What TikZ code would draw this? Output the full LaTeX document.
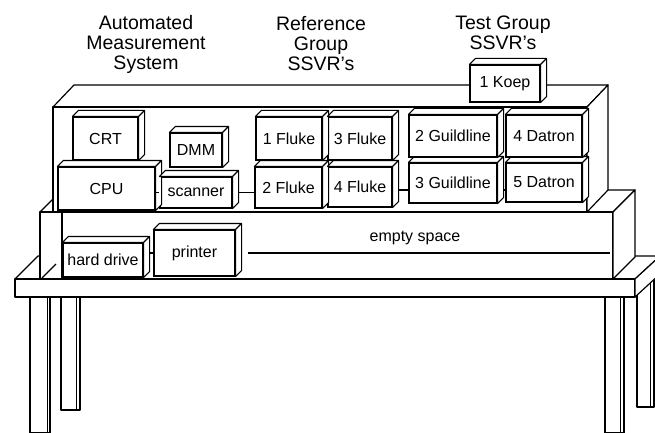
\documentclass[tikz,border=0pt]{standalone}
\usepackage{fontspec}
\setmainfont{Liberation Sans}

\tikzset{
  unit/.style={draw, fill=white, line width=1.1pt, inner sep=0pt, font=\fontsize{16}{18}\selectfont},
  face/.style={draw, fill=white, line width=1.1pt, line join=round},
  frame/.style={draw, fill=white, line width=1.2pt, line join=round},
  heading/.style={align=center, font=\fontsize{19.5}{20}\selectfont},
  floor/.style={line width=2.6pt},
  wire/.style={line width=1.1pt},
}

\begin{document}
\begin{tikzpicture}[x=1pt, y=-1pt]
  \useasboundingbox (0,0) rectangle (655,433);

  % table legs, back pair first
  \draw[frame] (61,297) rectangle (80,410);
  \draw[thin] (76,297) -- (76,410);
  \draw[frame] (637,280) rectangle (654,407);
  \draw[thin] (650,280) -- (650,407);
  \draw[frame] (30,297) rectangle (50,433);
  \draw[thin] (47,297) -- (47,433);
  \draw[frame] (605,297) rectangle (624,433);
  \draw[thin] (620,297) -- (620,433);

  % table top
  \draw[frame] (15,279) -- (38,256) -- (660,256) -- (635,279) -- cycle;
  \draw[frame] (15,279) rectangle (635,297);
  \draw[frame] (635,279) -- (660,256) -- (660,274) -- (635,297) -- cycle;

  % lower shelf
  \draw[frame] (40,212) -- (62,190) -- (635,190) -- (613,212) -- cycle;
  \draw[frame] (40,212) rectangle (613,279);
  \draw[frame] (613,212) -- (635,190) -- (635,257) -- (613,279) -- cycle;
  \draw[wire] (62,212) -- (62,279);
  \draw[wire] (42,278) -- (56,264);
  \draw[floor] (40,279) -- (613,279);

  % upper rack
  \draw[frame] (53,107) -- (74,85) -- (608,85) -- (587,107) -- cycle;
  \draw[frame] (53,107) rectangle (587,212);
  \draw[frame] (587,107) -- (608,85) -- (608,190) -- (587,212) -- cycle;
  \draw[floor] (53,212) -- (613,212);

  % bottom row of the rack
  \node[unit, minimum width=97, minimum height=43] (cpu) at (106.5,188.5) {CPU};
  \node[unit, minimum width=72, minimum height=31] (scanner) at (196,192.5) {scanner};
  \node[unit, minimum width=67, minimum height=41] (fluke2) at (288.5,187.5) {2 Fluke};
  \node[unit, minimum width=64, minimum height=40] (fluke4) at (360,187) {4 Fluke};
  \node[unit, minimum width=88, minimum height=40] (guild3) at (453,183) {3 Guildline};
  \node[unit, minimum width=76, minimum height=39] (datron5) at (544,182.5) {5 Datron};
  \foreach \n in {cpu,scanner,fluke2,fluke4,guild3,datron5}{
    \draw[face] (\n.north west) -- ++(6,-6) -- ([shift={(6,-6)}]\n.north east)
      -- ([shift={(6,-6)}]\n.south east) -- (\n.south east) -- (\n.north east) -- cycle
      (\n.north east) -- ++(6,-6);
  }

  % top row of the rack
  \node[unit, minimum width=65, minimum height=43] (crt) at (105.5,138.5) {CRT};
  \node[unit, minimum width=52, minimum height=34] (dmm) at (196,150) {DMM};
  \node[unit, minimum width=66, minimum height=43] (fluke1) at (289,138.5) {1 Fluke};
  \node[unit, minimum width=64, minimum height=43] (fluke3) at (360,138.5) {3 Fluke};
  \node[unit, minimum width=88, minimum height=42] (guild2) at (453,136) {2 Guildline};
  \node[unit, minimum width=76, minimum height=42] (datron4) at (544,136) {4 Datron};
  \node[unit, minimum width=70, minimum height=37] (koep) at (505,83.5) {1 Koep};

  % lower shelf units
  \node[unit, minimum width=80, minimum height=34] (hdd) at (103,260) {hard drive};
  \node[unit, minimum width=81, minimum height=46] (printer) at (194.5,253) {printer};
  \foreach \n in {crt,dmm,fluke1,fluke3,guild2,datron4,koep,hdd,printer}{
    \draw[face] (\n.north west) -- ++(6,-6) -- ([shift={(6,-6)}]\n.north east)
      -- ([shift={(6,-6)}]\n.south east) -- (\n.south east) -- (\n.north east) -- cycle
      (\n.north east) -- ++(6,-6);
  }

  % cabling
  \draw[wire] (scanner.west -| cpu.east) -- (scanner.west);
  \draw[wire] ([xshift=6pt]scanner.east) -- (scanner.east -| fluke2.west);
  \draw[wire] ([xshift=6pt,yshift=-3pt]fluke4.east) -- ([yshift=-3pt]fluke4.east -| guild3.west);
  \draw[wire] ([xshift=6pt,yshift=-7pt]guild3.east) -- ([yshift=-7pt]guild3.east -| datron5.west);
  \draw[wire] ([xshift=6pt]hdd.east |- printer.west) -- (printer.west);
  \coordinate (shelfend) at (610,253);
  \draw[wire] ([xshift=12pt]printer.east) -- (shelfend);

  % labels
  \node[heading] (ams) at (146,44) {Automated\\Measurement\\System};
  \node[heading] (refgrp) at (321,44) {Reference\\Group\\SSVR's};
  \node[heading] (testgrp) at (503,33) {Test Group\\SSVR's};
  \node[font=\fontsize{16}{18}\selectfont] (empty) at (415,238) {empty space};
\end{tikzpicture}
\end{document}
